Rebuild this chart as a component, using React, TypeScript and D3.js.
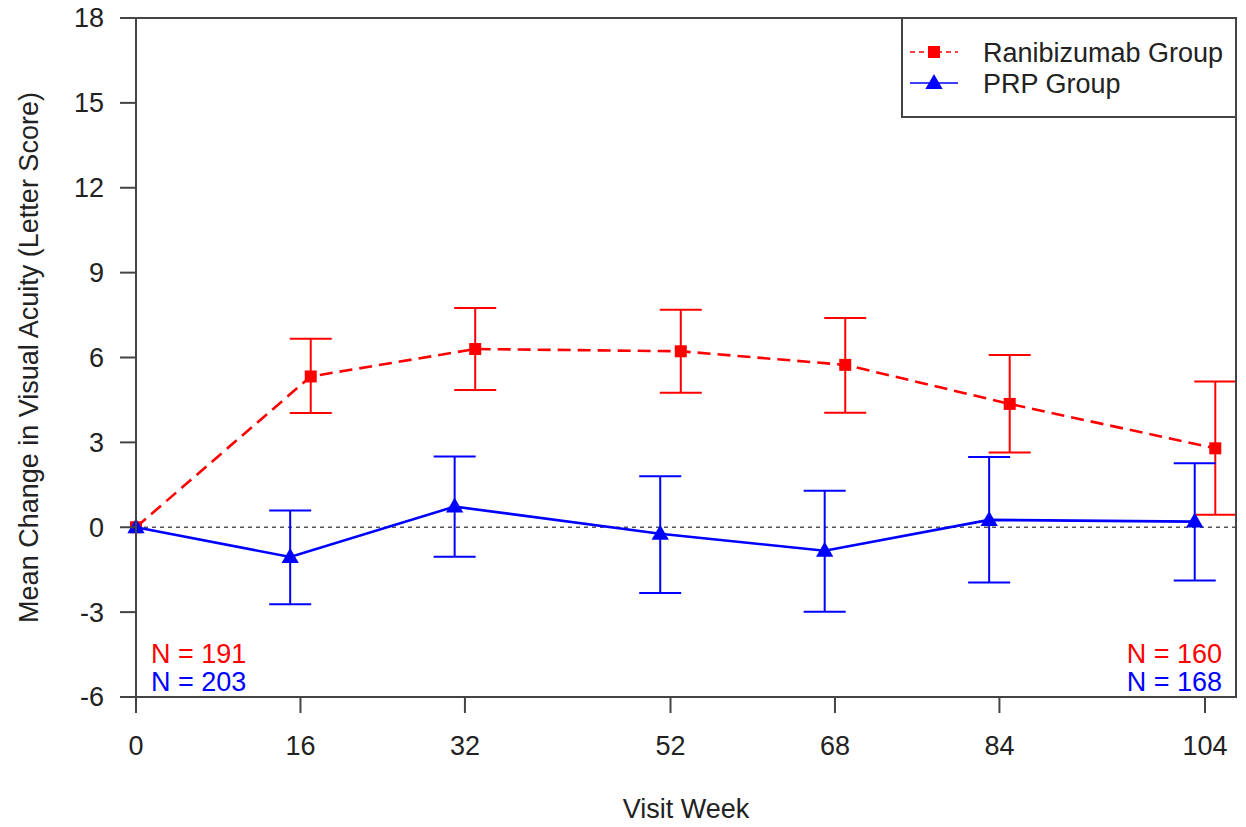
import React from "react";
import * as d3 from "d3";

// visit weeks and the values
const weeks = [0, 16, 32, 52, 68, 84, 104];
const ranibizumabMean = [0, 5.33, 6.3, 6.22, 5.74, 4.36, 2.79];
const ranibizumabLow = [0, 4.04, 4.85, 4.75, 4.05, 2.64, 0.44];
const ranibizumabHigh = [0, 6.66, 7.75, 7.69, 7.4, 6.09, 5.15];
const prpMean = [0, -1.05, 0.73, -0.23, -0.83, 0.26, 0.2];
const prpLow = [0, -2.72, -1.04, -2.32, -2.99, -1.95, -1.88];
const prpHigh = [0, 0.59, 2.5, 1.8, 1.29, 2.48, 2.26];
const yTicks = [-6, -3, 0, 3, 6, 9, 12, 15, 18];
const xTicks = [0, 16, 32, 52, 68, 84, 104];
const nLeft = { ranibizumab: "N = 191", prp: "N = 203" };
const nRight = { ranibizumab: "N = 160", prp: "N = 168" };

const RED = "#ff0000";
const BLUE = "#0000ff";
const AXIS = "#444";
const TEXT = "#222";
const FONT = "'Liberation Sans', Arial, sans-serif";
const FS = 27;

const width = 1246;
const height = 827;
const plot = { left: 136, right: 1236, top: 18, bottom: 697 };

const x = d3.scaleLinear().domain([0, 104]).range([136, 1205]);
const y = d3.scaleLinear().domain([-6, 18]).range([plot.bottom, plot.top]);

type Series = {
  name: string;
  color: string;
  mean: number[];
  low: number[];
  high: number[];
  shift: number; // weeks, keeps the two groups apart
  dash?: string;
  marker: "square" | "triangle";
};

const series: Series[] = [
  {
    name: "Ranibizumab Group",
    color: RED,
    mean: ranibizumabMean,
    low: ranibizumabLow,
    high: ranibizumabHigh,
    shift: 1,
    dash: "13 7",
    marker: "square",
  },
  {
    name: "PRP Group",
    color: BLUE,
    mean: prpMean,
    low: prpLow,
    high: prpHigh,
    shift: -1,
    marker: "triangle",
  },
];

const Marker = ({ type, cx, cy, color }: { type: string; cx: number; cy: number; color: string }) => {
  if (type === "square") {
    return <rect x={cx - 6} y={cy - 6} width={12} height={12} fill={color} />;
  }
  const tri = d3.symbol().type(d3.symbolTriangle).size(130)();
  return <path d={tri || ""} transform={`translate(${cx},${cy + 1})`} fill={color} />;
};

const App = () => {
  const px = (w: number, i: number, s: Series) => (i === 0 ? x(w) : x(w + s.shift));

  return (
    <svg
      width={width}
      height={height}
      style={{ position: "absolute", left: 0, top: 0, background: "#fff" }}
      fontFamily={FONT}
    >
      {/* zero reference line */}
      <line
        x1={plot.left}
        x2={plot.right}
        y1={y(0)}
        y2={y(0)}
        stroke="#555"
        strokeWidth={1.6}
        strokeDasharray="4 4"
      />

      {series.map((s) => {
        const line = d3
          .line<number>()
          .x((w, i) => px(w, i, s))
          .y((_, i) => y(s.mean[i]));
        return (
          <g key={s.name}>
            {weeks.map((w, i) =>
              i === 0 ? null : (
                <g key={w} stroke={s.color} strokeWidth={2}>
                  <line x1={px(w, i, s)} x2={px(w, i, s)} y1={y(s.low[i])} y2={y(s.high[i])} />
                  <line x1={px(w, i, s) - 21} x2={px(w, i, s) + 21} y1={y(s.low[i])} y2={y(s.low[i])} />
                  <line x1={px(w, i, s) - 21} x2={px(w, i, s) + 21} y1={y(s.high[i])} y2={y(s.high[i])} />
                </g>
              )
            )}
            <path
              d={line(weeks) || ""}
              fill="none"
              stroke={s.color}
              strokeWidth={2.6}
              strokeDasharray={s.dash}
            />
            {weeks.map((w, i) => (
              <Marker key={w} type={s.marker} cx={px(w, i, s)} cy={y(s.mean[i])} color={s.color} />
            ))}
          </g>
        );
      })}

      {/* frame */}
      <rect
        x={plot.left}
        y={plot.top}
        width={plot.right - plot.left}
        height={plot.bottom - plot.top}
        fill="none"
        stroke={AXIS}
        strokeWidth={2}
      />

      {/* y axis */}
      {yTicks.map((t) => (
        <g key={t}>
          <line x1={plot.left - 16} x2={plot.left} y1={y(t)} y2={y(t)} stroke={AXIS} strokeWidth={2} />
          <text x={104} y={y(t)} dy="0.35em" textAnchor="end" fontSize={FS} fill={TEXT}>
            {t}
          </text>
        </g>
      ))}

      {/* x axis */}
      {xTicks.map((t) => (
        <g key={t}>
          <line x1={x(t)} x2={x(t)} y1={plot.bottom} y2={plot.bottom + 16} stroke={AXIS} strokeWidth={2} />
          <text x={x(t)} y={755} textAnchor="middle" fontSize={FS} fill={TEXT}>
            {t}
          </text>
        </g>
      ))}

      <text x={686} y={818} textAnchor="middle" fontSize={FS} fill={TEXT}>
        Visit Week
      </text>
      <text
        transform={`translate(38,${(plot.top + plot.bottom) / 2}) rotate(-90)`}
        textAnchor="middle"
        fontSize={FS}
        fill={TEXT}
      >
        Mean Change in Visual Acuity (Letter Score)
      </text>

      {/* sample sizes */}
      <text x={151} y={663} fontSize={FS} fill={RED}>{nLeft.ranibizumab}</text>
      <text x={151} y={691} fontSize={FS} fill={BLUE}>{nLeft.prp}</text>
      <text x={1222} y={663} fontSize={FS} fill={RED} textAnchor="end">{nRight.ranibizumab}</text>
      <text x={1222} y={691} fontSize={FS} fill={BLUE} textAnchor="end">{nRight.prp}</text>

      {/* legend */}
      <g>
        <rect x={902} y={plot.top} width={plot.right - 902} height={99} fill="#fff" stroke={AXIS} strokeWidth={2} />
        {series.map((s, i) => {
          const ly = 52 + i * 31;
          return (
            <g key={s.name}>
              <line x1={910} x2={958} y1={ly} y2={ly} stroke={s.color} strokeWidth={1.5} strokeDasharray={s.dash ? "5 4" : undefined} />
              <Marker type={s.marker} cx={934} cy={ly} color={s.color} />
              <text x={983} y={ly + 10} fontSize={FS} fill={TEXT}>
                {s.name}
              </text>
            </g>
          );
        })}
      </g>
    </svg>
  );
};

export default App;
